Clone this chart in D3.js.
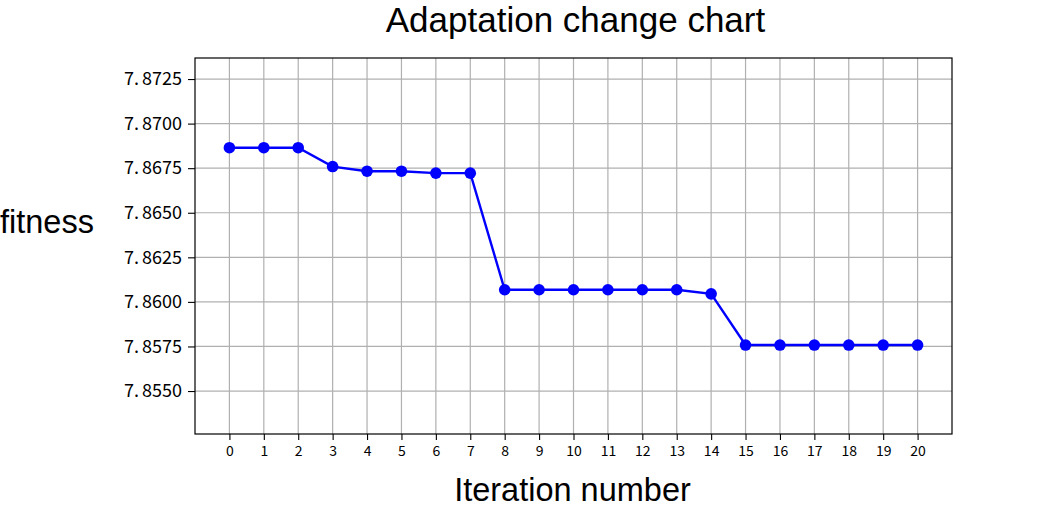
<!DOCTYPE html>
<html>
<head>
<meta charset="utf-8">
<script src="https://cdn.jsdelivr.net/npm/d3@7"></script>
<style>
  html, body { margin: 0; padding: 0; background: #fff; }
  svg { display: block; }
</style>
</head>
<body>
<svg id="chart" width="1051" height="508"></svg>
<script>
const iterations = [0,1,2,3,4,5,6,7,8,9,10,11,12,13,14,15,16,17,18,19,20];
const fitness = [7.86865,7.86865,7.86865,7.86759,7.86733,7.86733,7.86722,7.86722,
  7.86068,7.86068,7.86068,7.86068,7.86068,7.86068,7.86045,
  7.85758,7.85758,7.85758,7.85758,7.85758,7.85758];
const yTicks = [7.8550,7.8575,7.8600,7.8625,7.8650,7.8675,7.8700,7.8725];
const titleText = "Adaptation change chart";
const xLabel = "Iteration number";
const yLabel = "fitness";

const svg = d3.select("#chart");
const L = 195, R = 952, T = 58, B = 434;
const x = d3.scaleLinear().domain([-1, 21]).range([L, R]);
const y = d3.scaleLinear().domain([7.85259, 7.87368]).range([B, T]);

// grid
const g = svg.append("g");
g.selectAll(".gx").data(iterations).enter().append("line")
  .attr("x1", d => x(d)).attr("x2", d => x(d)).attr("y1", T).attr("y2", B)
  .attr("stroke", "#b0b0b0").attr("stroke-width", 1.2);
g.selectAll(".gy").data(yTicks).enter().append("line")
  .attr("y1", d => y(d)).attr("y2", d => y(d)).attr("x1", L).attr("x2", R)
  .attr("stroke", "#b0b0b0").attr("stroke-width", 1.2);

// line + markers
const line = d3.line().x((d, i) => x(iterations[i])).y(d => y(d));
svg.append("path").datum(fitness).attr("d", line)
  .attr("fill", "none").attr("stroke", "#0000ff").attr("stroke-width", 2.4);
svg.selectAll(".pt").data(fitness).enter().append("circle")
  .attr("cx", (d, i) => x(iterations[i])).attr("cy", d => y(d)).attr("r", 5.8)
  .attr("fill", "#0000ff");

// frame
svg.append("rect").attr("x", L).attr("y", T).attr("width", R - L).attr("height", B - T)
  .attr("fill", "none").attr("stroke", "#000").attr("stroke-width", 1.2);

// axes
const xAxis = d3.axisBottom(x).tickValues(iterations).tickFormat(d3.format("d"))
  .tickSize(6).tickPadding(6);
const yAxis = d3.axisLeft(y).tickValues(yTicks).tickFormat(d => d.toFixed(4))
  .tickSize(7).tickPadding(6);
const gx = svg.append("g").attr("transform", `translate(0,${B})`).call(xAxis);
const gy = svg.append("g").attr("transform", `translate(${L},0)`).call(yAxis);
[gx, gy].forEach(a => {
  a.select(".domain").remove();
  a.selectAll(".tick line").attr("stroke", "#000").attr("stroke-width", 1.1);
  a.selectAll(".tick text").attr("fill", "#000")
    .style("font-family", "'Noto Sans CJK SC', 'DejaVu Sans', sans-serif");
});
gx.selectAll(".tick text").style("font-size", "14px");
gy.selectAll(".tick text").style("font-size", "18px")
  .each(function(d) {
    const s = d.toFixed(4);
    const t = d3.select(this).text(null);
    t.append("tspan").text(s.slice(0, 2));
    t.append("tspan").attr("dx", 3).text(s.slice(2));
  });

// labels
svg.append("text").attr("x", (L + R) / 2 + 2).attr("y", 32).attr("text-anchor", "middle")
  .style("font-family", "'Liberation Sans', Arial, sans-serif").style("font-size", "35px")
  .text(titleText);
svg.append("text").attr("x", (L + R) / 2 - 1).attr("y", 501).attr("text-anchor", "middle")
  .style("font-family", "'Liberation Sans', Arial, sans-serif").style("font-size", "32.5px")
  .text(xLabel);
svg.append("text").attr("x", 0).attr("y", 233).attr("text-anchor", "start")
  .style("font-family", "'Liberation Sans', Arial, sans-serif").style("font-size", "32.5px")
  .text(yLabel);
</script>
</body>
</html>
